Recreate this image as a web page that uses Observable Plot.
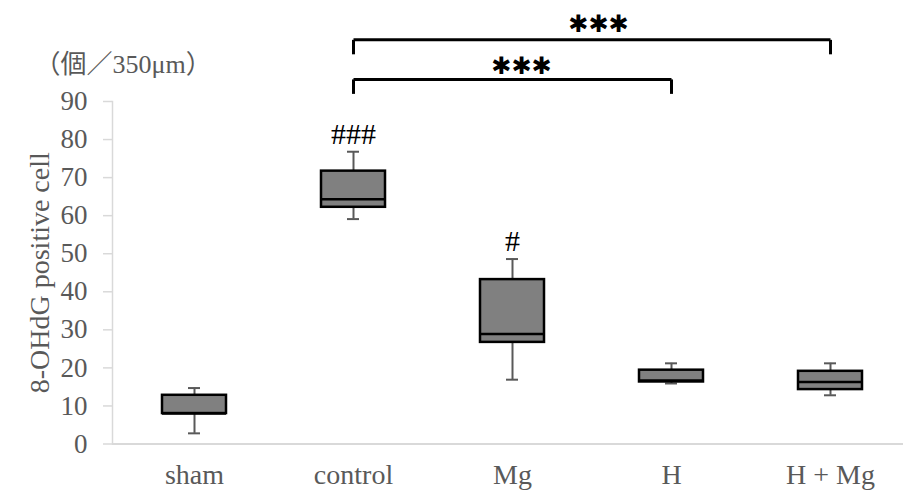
<!DOCTYPE html>
<html><head><meta charset="utf-8">
<script src="https://cdn.jsdelivr.net/npm/d3@7"></script>
<script src="https://cdn.jsdelivr.net/npm/@observablehq/plot@0.6"></script>
<style>body{margin:0;background:#fff}</style>
</head><body><div id="chart"></div>
<script>
// ---- data ----
const groups      = ["sham", "control", "Mg", "H", "H + Mg"];
const whiskerLow  = [2.8, 59.1, 16.9, 15.9, 12.8];
const q1          = [8.0, 62.2, 26.7, 16.3, 14.3];
const median      = [8.0, 64.3, 28.9, 16.7, 16.3];
const q3          = [12.8, 71.7, 43.2, 19.4, 19.1];
const whiskerHigh = [14.7, 76.8, 48.6, 21.2, 21.2];
const yTicks      = [0, 10, 20, 30, 40, 50, 60, 70, 80, 90];

const sigGroups = ["control", "Mg"];
const sigLabels = ["###", "#"];

const bracketFrom   = ["control", "control"];
const bracketTo     = ["H + Mg", "H"];
const bracketLevel  = [106.2, 95.8];
const bracketLabels = ["✱✱✱", "✱✱✱"];

const yLabel    = "8-OHdG positive cell";
const unitLabel = "（個／350μm）";

// ---- derived tables ----
const boxes = groups.map((g, i) => ({
  group: g, low: whiskerLow[i], q1: q1[i], median: median[i], q3: q3[i], high: whiskerHigh[i]
}));
const sigs = sigGroups.map((g, i) => ({group: g, label: sigLabels[i], y: whiskerHigh[groups.indexOf(g)]}));
const brackets = bracketFrom.map((f, i) => ({from: f, to: bracketTo[i], level: bracketLevel[i], label: bracketLabels[i]}));
const drop = 3.8;

const serif = "'Liberation Serif', 'Times New Roman', 'Noto Sans CJK JP', serif";
const gray = "#595959", axisGray = "#d9d9d9";

const chart = Plot.plot({
  width: 903, height: 492,
  marginLeft: 112, marginRight: 0, marginTop: 101, marginBottom: 48.5,
  style: {fontFamily: serif, background: "#fff"},
  x: {type: "band", domain: groups, range: [112, 911], paddingInner: 0.6, paddingOuter: 0.3, axis: null},
  y: {domain: [0, 90], axis: null},
  marks: [
    Plot.ruleY([0], {stroke: axisGray, strokeWidth: 2}),
    Plot.frame({anchor: "left", stroke: axisGray, strokeWidth: 1.5}),
    Plot.axisY({ticks: yTicks, tickSize: 9, tickFormat: () => "", stroke: axisGray, strokeWidth: 1.5}),
    Plot.axisY({ticks: yTicks, tickSize: 0, tickPadding: 25, fontSize: 27, color: gray}),
    Plot.axisX({tickSize: 0, tickPadding: 20, fontSize: 28, color: gray}),
    Plot.text([yLabel], {frameAnchor: "left", dx: -72, rotate: -90, textAnchor: "middle", fontSize: 28, fill: gray}),
    Plot.text([unitLabel], {frameAnchor: "top-left", dx: -78, dy: -47, textAnchor: "start", fontSize: 26, fill: gray}),
    // whiskers
    Plot.ruleX(boxes, {x: "group", y1: "q3", y2: "high", stroke: gray, strokeWidth: 2}),
    Plot.ruleX(boxes, {x: "group", y1: "low", y2: "q1", stroke: gray, strokeWidth: 2}),
    Plot.tickY(boxes, {x: "group", y: "high", insetLeft: 26, insetRight: 26, stroke: gray, strokeWidth: 2}),
    Plot.tickY(boxes, {x: "group", y: "low", insetLeft: 26, insetRight: 26, stroke: gray, strokeWidth: 2}),
    // boxes
    Plot.barY(boxes, {x: "group", y1: "q1", y2: "q3", fill: "#808080", stroke: "black", strokeWidth: 2.5}),
    Plot.tickY(boxes, {x: "group", y: "median", stroke: "black", strokeWidth: 2.5}),
    // significance
    Plot.text(sigs, {x: "group", y: "y", text: "label", lineAnchor: "bottom", dy: -8, fontSize: 30, fill: "black"}),
    Plot.link(brackets, {x1: "from", x2: "to", y1: "level", y2: "level", stroke: "black", strokeWidth: 3}),
    Plot.link(brackets, {x1: "from", x2: "from", y1: "level", y2: d => d.level - drop, stroke: "black", strokeWidth: 3}),
    Plot.link(brackets, {x1: "to", x2: "to", y1: "level", y2: d => d.level - drop, stroke: "black", strokeWidth: 3}),
    Plot.text(brackets.slice(0, 1), {x: "from", y: "level", text: "label", dx: 245, dy: -16, fontSize: 24, fill: "black", fontFamily: "DejaVu Sans"}),
    Plot.text(brackets.slice(1, 2), {x: "from", y: "level", text: "label", dx: 168, dy: -13, fontSize: 24, fill: "black", fontFamily: "DejaVu Sans"})
  ]
});
document.getElementById("chart").append(chart);
</script></body></html>
